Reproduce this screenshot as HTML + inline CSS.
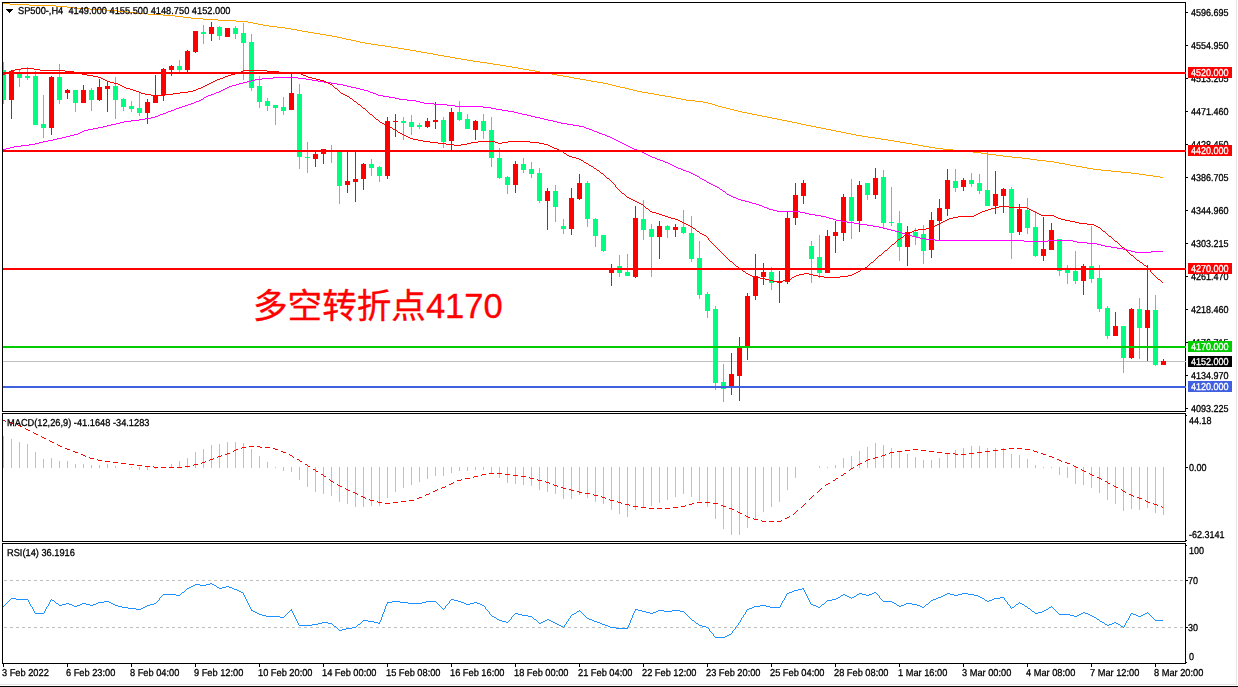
<!DOCTYPE html>
<html lang="zh"><head><meta charset="utf-8"><title>SP500-,H4</title>
<style>
html,body{margin:0;padding:0;background:#fff;}
body{width:1238px;height:687px;overflow:hidden;position:relative;font-family:"Liberation Sans",sans-serif;}
#chart{position:absolute;left:0;top:0;width:1238px;height:687px;}
#labels{position:absolute;left:0;top:0;width:1238px;height:687px;will-change:transform;}
svg{position:absolute;left:0;top:0;display:block;}
.t{position:absolute;white-space:nowrap;font-family:"Liberation Sans",sans-serif;font-size:10px;line-height:11px;height:11px;color:#000;transform:scaleX(0.9);transform-origin:0 0;text-rendering:geometricPrecision;-webkit-text-stroke:0.3px #000;}
.d{transform:scaleX(0.925);}
.box{position:absolute;left:1188px;width:44px;height:11px;color:#fff;font-size:10px;line-height:11px;font-family:"Liberation Sans",sans-serif;}
.box span{position:absolute;left:3px;top:1px;white-space:nowrap;transform:scaleX(0.9);transform-origin:0 0;text-rendering:geometricPrecision;-webkit-text-stroke:0.3px #fff;}
</style></head><body><div id="chart">
<svg width="1238" height="687" viewBox="0 0 1238 687" shape-rendering="crispEdges">
<rect x="0" y="0" width="1238" height="687" fill="#fff"/>
<rect x="1236" y="0" width="1" height="685" fill="#e4e4e4"/>
<rect x="0" y="684" width="1237" height="1" fill="#e4e4e4"/>
<rect x="0" y="686" width="1238" height="1" fill="#000"/>
<rect x="3" y="361" width="1182" height="1" fill="#c0c0c0"/>
<path fill="#00ff80" d="M3 62h1v42h-1zM3 70h3v30h-3zM19 70h1v17h-1zM17 74h5v4h-5zM27 67h1v13h-1zM25 76h5v2h-5zM35 71h1v54h-1zM33 76h5v49h-5zM43 95h1v43h-1zM41 124h5v4h-5zM59 64h1v40h-1zM57 77h5v23h-5zM75 90h1v22h-1zM73 90h5v13h-5zM91 88h1v23h-1zM89 90h5v10h-5zM115 77h1v42h-1zM113 86h5v14h-5zM123 98h1v13h-1zM121 99h5v8h-5zM131 101h1v11h-1zM129 106h5v3h-5zM139 93h1v23h-1zM137 108h5v5h-5zM179 60h1v12h-1zM177 66h5v4h-5zM203 25h1v19h-1zM201 32h5v2h-5zM219 26h1v14h-1zM217 27h5v9h-5zM235 26h1v13h-1zM233 28h5v6h-5zM243 23h1v57h-1zM241 33h5v10h-5zM251 34h1v57h-1zM249 42h5v46h-5zM259 76h1v32h-1zM257 86h5v16h-5zM267 98h1v13h-1zM265 101h5v5h-5zM275 105h1v20h-1zM273 105h5v3h-5zM283 97h1v18h-1zM281 107h5v4h-5zM299 84h1v85h-1zM297 94h5v63h-5zM307 142h1v31h-1zM305 157h5v1h-5zM331 145h1v18h-1zM329 150h5v2h-5zM339 151h1v53h-1zM337 151h5v35h-5zM371 159h1v17h-1zM369 164h5v4h-5zM379 166h1v16h-1zM377 167h5v9h-5zM403 117h1v23h-1zM401 121h5v2h-5zM411 115h1v20h-1zM409 122h5v5h-5zM419 123h1v6h-1zM417 125h5v2h-5zM443 117h1v31h-1zM441 120h5v22h-5zM459 101h1v20h-1zM457 112h5v8h-5zM467 114h1v15h-1zM465 119h5v10h-5zM483 114h1v25h-1zM481 121h5v10h-5zM491 117h1v50h-1zM489 130h5v28h-5zM499 148h1v31h-1zM497 158h5v20h-5zM507 176h1v18h-1zM505 177h5v8h-5zM523 158h1v15h-1zM521 164h5v6h-5zM531 162h1v16h-1zM529 169h5v5h-5zM539 168h1v35h-1zM537 173h5v28h-5zM555 185h1v37h-1zM553 191h5v16h-5zM563 219h1v15h-1zM561 226h5v3h-5zM587 181h1v46h-1zM585 183h5v36h-5zM595 218h1v29h-1zM593 219h5v17h-5zM603 235h1v17h-1zM601 235h5v16h-5zM619 255h1v22h-1zM617 266h5v7h-5zM627 254h1v22h-1zM625 272h5v4h-5zM643 200h1v40h-1zM641 219h5v11h-5zM651 224h1v53h-1zM649 229h5v8h-5zM667 225h1v13h-1zM665 226h5v4h-5zM683 210h1v24h-1zM681 227h5v6h-5zM691 216h1v46h-1zM689 233h5v26h-5zM699 241h1v58h-1zM697 258h5v37h-5zM707 292h1v26h-1zM705 294h5v17h-5zM715 306h1v84h-1zM713 309h5v74h-5zM723 364h1v38h-1zM721 382h5v7h-5zM771 267h1v23h-1zM769 272h5v11h-5zM811 241h1v42h-1zM809 246h5v13h-5zM819 235h1v43h-1zM817 257h5v16h-5zM851 179h1v60h-1zM849 197h5v24h-5zM867 183h1v17h-1zM865 183h5v12h-5zM883 170h1v59h-1zM881 177h5v46h-5zM891 187h1v39h-1zM889 222h5v1h-5zM899 211h1v50h-1zM897 223h5v24h-5zM915 228h1v17h-1zM913 232h5v5h-5zM923 225h1v39h-1zM921 234h5v17h-5zM955 169h1v23h-1zM953 181h5v7h-5zM971 173h1v14h-1zM969 180h5v4h-5zM979 174h1v20h-1zM977 183h5v8h-5zM987 152h1v54h-1zM985 190h5v16h-5zM1011 187h1v72h-1zM1009 189h5v44h-5zM1027 198h1v36h-1zM1025 210h5v18h-5zM1035 211h1v46h-1zM1033 227h5v29h-5zM1059 239h1v37h-1zM1057 239h5v32h-5zM1067 265h1v19h-1zM1065 270h5v3h-5zM1075 251h1v33h-1zM1073 271h5v10h-5zM1091 226h1v57h-1zM1089 266h5v13h-5zM1099 265h1v47h-1zM1097 278h5v31h-5zM1107 306h1v33h-1zM1105 308h5v28h-5zM1123 326h1v47h-1zM1121 326h5v32h-5zM1139 298h1v61h-1zM1137 309h5v19h-5zM1155 295h1v71h-1zM1153 310h5v55h-5z"/>
<path fill="#ff0000" d="M11 70h1v49h-1zM9 71h5v29h-5zM51 76h1v59h-1zM49 77h5v51h-5zM67 89h1v10h-1zM65 90h5v3h-5zM83 85h1v18h-1zM81 90h5v13h-5zM99 79h1v22h-1zM97 87h5v13h-5zM107 82h1v30h-1zM105 86h5v3h-5zM147 99h1v25h-1zM145 102h5v11h-5zM155 75h1v28h-1zM153 95h5v8h-5zM163 68h1v33h-1zM161 69h5v26h-5zM171 65h1v11h-1zM169 66h5v4h-5zM187 50h1v22h-1zM185 51h5v19h-5zM195 31h1v22h-1zM193 31h5v21h-5zM211 22h1v19h-1zM209 27h5v7h-5zM227 28h1v9h-1zM225 28h5v9h-5zM291 74h1v36h-1zM289 93h5v17h-5zM315 152h1v15h-1zM313 154h5v5h-5zM323 149h1v15h-1zM321 149h5v5h-5zM347 151h1v42h-1zM345 181h5v4h-5zM355 151h1v51h-1zM353 179h5v3h-5zM363 163h1v27h-1zM361 164h5v15h-5zM387 117h1v62h-1zM385 121h5v55h-5zM395 114h1v23h-1zM393 121h5v1h-5zM427 118h1v10h-1zM425 121h5v6h-5zM435 102h1v27h-1zM433 120h5v2h-5zM451 108h1v42h-1zM449 112h5v29h-5zM475 120h1v20h-1zM473 121h5v9h-5zM515 161h1v32h-1zM513 164h5v21h-5zM547 188h1v42h-1zM545 191h5v10h-5zM571 188h1v47h-1zM569 198h5v31h-5zM579 174h1v26h-1zM577 183h5v16h-5zM611 264h1v22h-1zM609 268h5v5h-5zM635 206h1v72h-1zM633 218h5v59h-5zM659 221h1v38h-1zM657 226h5v11h-5zM675 224h1v13h-1zM673 227h5v3h-5zM731 353h1v42h-1zM729 374h5v12h-5zM739 337h1v64h-1zM737 348h5v28h-5zM747 293h1v67h-1zM745 296h5v50h-5zM755 254h1v46h-1zM753 276h5v20h-5zM763 263h1v22h-1zM761 272h5v5h-5zM779 271h1v32h-1zM777 281h5v2h-5zM787 212h1v72h-1zM785 218h5v64h-5zM795 183h1v42h-1zM793 195h5v23h-5zM803 180h1v24h-1zM801 183h5v13h-5zM827 230h1v43h-1zM825 236h5v37h-5zM835 221h1v32h-1zM833 232h5v4h-5zM843 194h1v47h-1zM841 197h5v36h-5zM859 181h1v51h-1zM857 185h5v36h-5zM875 168h1v31h-1zM873 178h5v17h-5zM907 226h1v40h-1zM905 232h5v15h-5zM931 212h1v46h-1zM929 220h5v30h-5zM939 199h1v41h-1zM937 208h5v13h-5zM947 169h1v47h-1zM945 180h5v29h-5zM963 178h1v13h-1zM961 180h5v7h-5zM995 171h1v43h-1zM993 194h5v12h-5zM1003 188h1v25h-1zM1001 189h5v7h-5zM1019 204h1v31h-1zM1017 209h5v23h-5zM1043 217h1v44h-1zM1041 249h5v7h-5zM1051 223h1v27h-1zM1049 230h5v20h-5zM1083 264h1v31h-1zM1081 266h5v15h-5zM1115 312h1v24h-1zM1113 326h5v10h-5zM1131 308h1v51h-1zM1129 309h5v49h-5zM1147 265h1v96h-1zM1145 310h5v18h-5zM1163 359h1v6h-1zM1161 361h5v4h-5z"/>
<path fill="#ffa500" d="M427 53h6v1h-6zM269 26h8v1h-8zM535 71h5v1h-5zM191 18h12v1h-12zM620 87h5v1h-5zM136 13h12v1h-12zM10 4h19v1h-19zM1101 170h10v1h-10zM671 97h5v1h-5zM1121 172h10v1h-10zM236 21h12v1h-12zM506 66h6v1h-6zM314 33h6v1h-6zM253 23h5v1h-5zM518 68h5v1h-5zM356 41h4v1h-4zM385 46h6v1h-6zM1012 157h10v1h-10zM3 3h7v1h-7zM404 49h6v1h-6zM757 115h5v1h-5zM1022 158h8v1h-8zM371 44h7v1h-7zM163 15h12v1h-12zM342 38h4v1h-4zM552 74h5v1h-5zM1046 161h8v1h-8zM841 132h5v1h-5zM608 84h4v1h-4zM105 10h12v1h-12zM811 126h5v1h-5zM782 120h5v1h-5zM450 57h5v1h-5zM416 51h5v1h-5zM523 69h6v1h-6zM175 16h8v1h-8zM722 107h4v1h-4zM659 95h6v1h-6zM963 151h10v1h-10zM1139 174h7v1h-7zM493 64h7v1h-7zM597 82h6v1h-6zM742 112h5v1h-5zM29 5h27v1h-27zM67 7h10v1h-10zM218 20h18v1h-18zM996 155h7v1h-7zM346 39h5v1h-5zM391 47h7v1h-7zM90 9h15v1h-15zM747 113h5v1h-5zM183 17h8v1h-8zM203 19h15v1h-15zM360 42h5v1h-5zM332 36h5v1h-5zM665 96h6v1h-6zM625 88h4v1h-4zM127 12h9v1h-9zM801 124h5v1h-5zM1111 171h10v1h-10zM302 31h6v1h-6zM438 55h6v1h-6zM512 67h6v1h-6zM56 6h11v1h-11zM648 93h6v1h-6zM929 147h6v1h-6zM943 149h10v1h-10zM480 62h7v1h-7zM557 75h6v1h-6zM258 24h5v1h-5zM612 85h4v1h-4zM695 101h8v1h-8zM148 14h15v1h-15zM856 135h6v1h-6zM816 127h5v1h-5zM351 40h5v1h-5zM77 8h13v1h-13zM320 34h6v1h-6zM421 52h6v1h-6zM734 110h4v1h-4zM467 60h6v1h-6zM752 114h5v1h-5zM831 130h5v1h-5zM712 104h3v1h-3zM1093 169h8v1h-8zM248 22h5v1h-5zM629 89h4v1h-4zM681 99h5v1h-5zM291 29h6v1h-6zM263 25h6v1h-6zM1131 173h8v1h-8zM308 32h6v1h-6zM410 50h6v1h-6zM337 37h5v1h-5zM277 27h8v1h-8zM378 45h7v1h-7zM603 83h5v1h-5zM715 105h3v1h-3zM806 125h5v1h-5zM1037 160h9v1h-9zM738 111h4v1h-4zM455 58h6v1h-6zM686 100h9v1h-9zM616 86h4v1h-4zM821 128h5v1h-5zM953 150h10v1h-10zM792 122h5v1h-5zM1082 167h5v1h-5zM875 138h6v1h-6zM973 152h8v1h-8zM500 65h6v1h-6zM117 11h10v1h-10zM988 154h8v1h-8zM1003 156h9v1h-9zM326 35h6v1h-6zM1087 168h6v1h-6zM398 48h6v1h-6zM642 92h6v1h-6zM923 146h6v1h-6zM1070 165h6v1h-6zM862 136h6v1h-6zM703 102h5v1h-5zM591 81h6v1h-6zM1030 159h7v1h-7zM1153 176h7v1h-7zM473 61h7v1h-7zM836 131h5v1h-5zM285 28h6v1h-6zM797 123h4v1h-4zM912 144h6v1h-6zM676 98h5v1h-5zM1059 163h6v1h-6zM851 134h5v1h-5zM708 103h4v1h-4zM881 139h7v1h-7zM730 109h4v1h-4zM461 59h6v1h-6zM900 142h6v1h-6zM580 79h6v1h-6zM787 121h5v1h-5zM868 137h7v1h-7zM1146 175h7v1h-7zM981 153h7v1h-7zM918 145h5v1h-5zM772 118h5v1h-5zM888 140h6v1h-6zM569 77h5v1h-5zM1065 164h5v1h-5zM540 72h6v1h-6zM654 94h5v1h-5zM586 80h5v1h-5zM935 148h8v1h-8zM906 143h6v1h-6zM1054 162h5v1h-5zM846 133h5v1h-5zM777 119h5v1h-5zM574 78h6v1h-6zM297 30h5v1h-5zM365 43h6v1h-6zM894 141h6v1h-6zM726 108h4v1h-4zM563 76h6v1h-6zM1076 166h6v1h-6zM444 56h6v1h-6zM633 90h4v1h-4zM718 106h4v1h-4zM637 91h5v1h-5zM1160 177h3v1h-3zM826 129h5v1h-5zM433 54h5v1h-5zM529 70h6v1h-6zM487 63h6v1h-6zM767 117h5v1h-5zM546 73h6v1h-6zM762 116h5v1h-5z"/>
<path fill="#ff00ff" d="M243 82h4v1h-4zM324 82h7v1h-7zM762 206h2v1h-2zM262 78h11v1h-11zM298 78h8v1h-8zM107 125h4v1h-4zM573 125h6v1h-6zM702 179h2v1h-2zM935 240h89v1h-89zM1048 240h25v1h-25zM1105 246h6v1h-6zM98 127h5v1h-5zM584 127h2v1h-2zM168 111h3v1h-3zM508 111h6v1h-6zM225 88h2v1h-2zM356 88h4v1h-4zM805 213h4v1h-4zM131 120h8v1h-8zM548 120h5v1h-5zM738 199h3v1h-3zM693 174h2v1h-2zM182 106h3v1h-3zM455 106h28v1h-28zM273 77h25v1h-25zM124 121h7v1h-7zM553 121h4v1h-4zM731 196h2v1h-2zM821 216h5v1h-5zM686 171h3v1h-3zM912 236h4v1h-4zM873 226h6v1h-6zM251 80h4v1h-4zM312 80h6v1h-6zM199 100h2v1h-2zM407 100h9v1h-9zM211 94h3v1h-3zM376 94h2v1h-2zM194 102h2v1h-2zM420 102h4v1h-4zM84 130h4v1h-4zM592 130h2v1h-2zM160 114h3v1h-3zM522 114h5v1h-5zM777 211h23v1h-23zM759 205h3v1h-3zM1131 251h4v1h-4zM1151 251h12v1h-12zM204 97h2v1h-2zM389 97h6v1h-6zM111 124h5v1h-5zM567 124h6v1h-6zM14 146h7v1h-7zM628 146h2v1h-2zM188 104h3v1h-3zM434 104h13v1h-13zM1087 243h10v1h-10zM93 128h5v1h-5zM586 128h3v1h-3zM179 107h3v1h-3zM483 107h8v1h-8zM116 123h4v1h-4zM561 123h6v1h-6zM847 222h7v1h-7zM926 239h9v1h-9zM191 103h3v1h-3zM424 103h10v1h-10zM103 126h4v1h-4zM579 126h5v1h-5zM3 149h3v1h-3zM634 149h3v1h-3zM139 119h6v1h-6zM544 119h4v1h-4zM227 87h2v1h-2zM351 87h5v1h-5zM82 131h2v1h-2zM594 131h3v1h-3zM809 214h6v1h-6zM174 109h2v1h-2zM496 109h6v1h-6zM891 230h4v1h-4zM395 98h4v1h-4zM223 89h2v1h-2zM360 89h4v1h-4zM10 147h4v1h-4zM630 147h2v1h-2zM208 95h3v1h-3zM378 95h5v1h-5zM1097 244h4v1h-4zM21 145h8v1h-8zM626 145h2v1h-2zM78 133h2v1h-2zM599 133h3v1h-3zM741 200h4v1h-4zM1024 241h24v1h-24zM1073 241h4v1h-4zM43 141h5v1h-5zM618 141h2v1h-2zM733 197h3v1h-3zM70 135h4v1h-4zM605 135h2v1h-2zM155 116h3v1h-3zM531 116h4v1h-4zM1135 252h16v1h-16zM916 237h4v1h-4zM29 144h6v1h-6zM624 144h2v1h-2zM166 112h2v1h-2zM514 112h4v1h-4zM836 220h5v1h-5zM151 117h4v1h-4zM535 117h5v1h-5zM773 210h4v1h-4zM57 138h5v1h-5zM612 138h2v1h-2zM206 96h2v1h-2zM383 96h6v1h-6zM74 134h4v1h-4zM602 134h3v1h-3zM644 153h2v1h-2zM219 91h2v1h-2zM368 91h2v1h-2zM39 142h4v1h-4zM620 142h2v1h-2zM66 136h4v1h-4zM607 136h3v1h-3zM711 184h2v1h-2zM854 223h6v1h-6zM171 110h3v1h-3zM502 110h6v1h-6zM906 234h3v1h-3zM1077 242h10v1h-10zM35 143h4v1h-4zM622 143h2v1h-2zM247 81h4v1h-4zM318 81h6v1h-6zM815 215h6v1h-6zM53 139h4v1h-4zM614 139h2v1h-2zM745 201h4v1h-4zM196 101h3v1h-3zM416 101h4v1h-4zM185 105h3v1h-3zM447 105h8v1h-8zM655 158h2v1h-2zM646 154h2v1h-2zM800 212h5v1h-5zM883 228h4v1h-4zM229 86h3v1h-3zM347 86h4v1h-4zM236 84h3v1h-3zM337 84h6v1h-6zM672 165h2v1h-2zM176 108h3v1h-3zM491 108h5v1h-5zM665 162h3v1h-3zM691 173h2v1h-2zM887 229h4v1h-4zM700 178h2v1h-2zM909 235h3v1h-3zM683 170h3v1h-3zM201 99h2v1h-2zM399 99h8v1h-8zM120 122h4v1h-4zM557 122h4v1h-4zM214 93h2v1h-2zM373 93h3v1h-3zM736 198h2v1h-2zM676 167h2v1h-2zM221 90h2v1h-2zM364 90h4v1h-4zM729 195h2v1h-2zM841 221h6v1h-6zM255 79h7v1h-7zM306 79h6v1h-6zM1127 250h4v1h-4zM769 209h4v1h-4zM860 224h7v1h-7zM88 129h5v1h-5zM589 129h3v1h-3zM1117 248h6v1h-6zM723 191h2v1h-2zM833 219h3v1h-3zM879 227h4v1h-4zM145 118h6v1h-6zM540 118h4v1h-4zM902 233h4v1h-4zM895 231h4v1h-4zM752 203h4v1h-4zM867 225h6v1h-6zM652 157h3v1h-3zM239 83h4v1h-4zM331 83h6v1h-6zM62 137h4v1h-4zM610 137h2v1h-2zM678 168h3v1h-3zM637 150h2v1h-2zM663 161h2v1h-2zM704 180h2v1h-2zM756 204h3v1h-3zM48 140h5v1h-5zM616 140h2v1h-2zM681 169h2v1h-2zM767 208h2v1h-2zM1111 247h6v1h-6zM232 85h4v1h-4zM343 85h4v1h-4zM899 232h3v1h-3zM6 148h4v1h-4zM632 148h2v1h-2zM80 132h2v1h-2zM597 132h2v1h-2zM717 187h2v1h-2zM657 159h3v1h-3zM650 156h2v1h-2zM642 152h2v1h-2zM660 160h3v1h-3zM163 113h3v1h-3zM518 113h4v1h-4zM216 92h3v1h-3zM370 92h3v1h-3zM713 185h2v1h-2zM1123 249h4v1h-4zM158 115h2v1h-2zM527 115h4v1h-4zM764 207h3v1h-3zM689 172h2v1h-2zM727 194h2v1h-2zM826 217h3v1h-3zM829 218h4v1h-4zM920 238h6v1h-6zM1101 245h4v1h-4zM648 155h2v1h-2zM715 186h2v1h-2zM749 202h3v1h-3zM639 151h3v1h-3zM707 182h2v1h-2zM709 183h2v1h-2zM670 164h2v1h-2zM668 163h2v1h-2zM695 175h2v1h-2zM697 176h2v1h-2zM720 189h2v1h-2zM674 166h2v1h-2zM726 193h1v1h-1zM699 177h1v1h-1zM725 192h1v1h-1zM203 98h1v1h-1zM719 188h1v1h-1zM706 181h1v1h-1zM722 190h1v1h-1z"/>
<path fill="#ff0000" d="M358 104h2v1h-2zM665 216h3v1h-3zM958 216h16v1h-16zM1054 216h2v1h-2zM748 274h2v1h-2zM799 274h5v1h-5zM809 274h4v1h-4zM852 274h2v1h-2zM10 71h2v1h-2zM65 71h9v1h-9zM241 71h2v1h-2zM267 71h12v1h-12zM682 222h2v1h-2zM941 222h2v1h-2zM1075 222h4v1h-4zM12 70h3v1h-3zM40 70h25v1h-25zM243 70h24v1h-24zM446 144h8v1h-8zM461 144h6v1h-6zM544 144h4v1h-4zM8 72h2v1h-2zM74 72h4v1h-4zM238 72h3v1h-3zM279 72h14v1h-14zM413 139h5v1h-5zM750 275h2v1h-2zM796 275h3v1h-3zM813 275h5v1h-5zM848 275h4v1h-4zM87 75h6v1h-6zM228 75h3v1h-3zM303 75h3v1h-3zM995 207h4v1h-4zM1009 207h18v1h-18zM21 68h13v1h-13zM639 203h2v1h-2zM423 141h7v1h-7zM478 141h17v1h-17zM508 141h22v1h-22zM631 199h2v1h-2zM671 218h4v1h-4zM949 218h4v1h-4zM1058 218h3v1h-3zM126 88h4v1h-4zM198 88h3v1h-3zM335 88h2v1h-2zM985 210h3v1h-3zM1031 210h2v1h-2zM633 200h2v1h-2zM5 73h3v1h-3zM78 73h4v1h-4zM235 73h3v1h-3zM293 73h8v1h-8zM1122 247h2v1h-2zM931 227h2v1h-2zM1098 227h2v1h-2zM684 223h2v1h-2zM939 223h2v1h-2zM1079 223h8v1h-8zM569 156h3v1h-3zM438 143h8v1h-8zM467 143h4v1h-4zM498 143h4v1h-4zM539 143h5v1h-5zM145 94h6v1h-6zM165 94h8v1h-8zM343 94h2v1h-2zM697 231h2v1h-2zM912 231h2v1h-2zM1103 231h2v1h-2zM93 76h5v1h-5zM225 76h3v1h-3zM306 76h2v1h-2zM136 91h3v1h-3zM188 91h5v1h-5zM103 79h2v1h-2zM217 79h3v1h-3zM316 79h4v1h-4zM594 168h2v1h-2zM688 225h2v1h-2zM935 225h2v1h-2zM1094 225h2v1h-2zM668 217h3v1h-3zM953 217h5v1h-5zM1056 217h2v1h-2zM390 127h2v1h-2zM382 123h2v1h-2zM918 229h8v1h-8zM133 90h3v1h-3zM193 90h3v1h-3zM384 124h2v1h-2zM114 83h4v1h-4zM209 83h2v1h-2zM328 83h2v1h-2zM675 219h3v1h-3zM947 219h2v1h-2zM1061 219h4v1h-4zM354 101h2v1h-2zM756 277h4v1h-4zM792 277h2v1h-2zM824 277h16v1h-16zM693 228h2v1h-2zM926 228h5v1h-5zM646 208h2v1h-2zM991 208h4v1h-4zM1027 208h2v1h-2zM736 266h2v1h-2zM139 92h2v1h-2zM180 92h8v1h-8zM865 267h2v1h-2zM769 280h4v1h-4zM783 280h6v1h-6zM98 77h3v1h-3zM223 77h2v1h-2zM308 77h4v1h-4zM105 80h2v1h-2zM215 80h2v1h-2zM320 80h4v1h-4zM752 276h4v1h-4zM794 276h2v1h-2zM818 276h6v1h-6zM840 276h8v1h-8zM999 206h10v1h-10zM3 74h2v1h-2zM82 74h5v1h-5zM231 74h4v1h-4zM301 74h2v1h-2zM572 157h4v1h-4zM564 153h2v1h-2zM118 84h2v1h-2zM207 84h2v1h-2zM330 84h2v1h-2zM652 212h4v1h-4zM980 212h2v1h-2zM1035 212h2v1h-2zM901 237h2v1h-2zM557 149h2v1h-2zM454 145h7v1h-7zM548 145h2v1h-2zM680 221h2v1h-2zM943 221h2v1h-2zM1070 221h5v1h-5zM746 273h2v1h-2zM804 273h5v1h-5zM854 273h2v1h-2zM581 160h2v1h-2zM130 89h3v1h-3zM196 89h2v1h-2zM730 261h2v1h-2zM576 158h3v1h-3zM656 213h3v1h-3zM978 213h2v1h-2zM1037 213h2v1h-2zM141 93h4v1h-4zM173 93h7v1h-7zM341 93h2v1h-2zM743 271h2v1h-2zM858 271h2v1h-2zM773 281h4v1h-4zM781 281h2v1h-2zM151 95h14v1h-14zM345 95h2v1h-2zM659 214h3v1h-3zM976 214h2v1h-2zM1039 214h2v1h-2zM702 234h2v1h-2zM906 234h2v1h-2zM15 69h6v1h-6zM34 69h6v1h-6zM650 211h2v1h-2zM982 211h3v1h-3zM1033 211h2v1h-2zM120 85h2v1h-2zM205 85h2v1h-2zM662 215h3v1h-3zM974 215h2v1h-2zM1041 215h13v1h-13zM559 150h2v1h-2zM678 220h2v1h-2zM945 220h2v1h-2zM1065 220h5v1h-5zM1115 241h2v1h-2zM777 282h4v1h-4zM863 268h2v1h-2zM408 137h2v1h-2zM400 133h2v1h-2zM110 82h4v1h-4zM211 82h2v1h-2zM326 82h2v1h-2zM910 232h2v1h-2zM686 224h2v1h-2zM937 224h2v1h-2zM1087 224h7v1h-7zM760 278h5v1h-5zM430 142h8v1h-8zM471 142h7v1h-7zM495 142h3v1h-3zM502 142h6v1h-6zM530 142h9v1h-9zM1109 236h2v1h-2zM637 202h2v1h-2zM885 250h2v1h-2zM101 78h2v1h-2zM220 78h3v1h-3zM312 78h4v1h-4zM410 138h3v1h-3zM1137 260h2v1h-2zM988 209h3v1h-3zM1029 209h2v1h-2zM871 262h2v1h-2zM1140 262h2v1h-2zM898 239h2v1h-2zM122 86h2v1h-2zM203 86h2v1h-2zM690 226h2v1h-2zM933 226h2v1h-2zM1096 226h2v1h-2zM395 130h2v1h-2zM388 126h2v1h-2zM380 122h2v1h-2zM856 272h2v1h-2zM879 255h2v1h-2zM1131 255h2v1h-2zM765 279h4v1h-4zM789 279h2v1h-2zM1158 279h2v1h-2zM554 148h3v1h-3zM376 119h2v1h-2zM914 230h4v1h-4zM124 87h2v1h-2zM201 87h2v1h-2zM700 233h2v1h-2zM908 233h2v1h-2zM740 269h2v1h-2zM861 269h2v1h-2zM406 136h2v1h-2zM398 132h2v1h-2zM892 244h2v1h-2zM597 170h2v1h-2zM393 129h2v1h-2zM386 125h2v1h-2zM567 155h2v1h-2zM552 147h2v1h-2zM586 163h2v1h-2zM1144 265h2v1h-2zM347 96h2v1h-2zM629 198h2v1h-2zM635 201h2v1h-2zM627 197h2v1h-2zM107 81h3v1h-3zM213 81h2v1h-2zM324 81h2v1h-2zM704 235h2v1h-2zM904 235h2v1h-2zM591 166h2v1h-2zM561 151h2v1h-2zM363 108h2v1h-2zM579 159h2v1h-2zM404 135h2v1h-2zM601 173h2v1h-2zM641 204h2v1h-2zM370 114h2v1h-2zM418 140h5v1h-5zM607 178h2v1h-2zM584 162h2v1h-2zM350 98h2v1h-2zM550 146h2v1h-2zM402 134h2v1h-2zM589 165h2v1h-2zM622 193h2v1h-2zM888 248h1v1h-1zM332 85h1v1h-1zM723 254h1v1h-1zM369 113h1v1h-1zM618 189h1v1h-1zM619 190h1v1h-1zM365 109h1v1h-1zM1161 281h1v1h-1zM870 263h1v1h-1zM876 258h1v1h-1zM1150 270h1v2h-1zM1108 235h1v1h-1zM366 110h1v1h-1zM729 260h1v1h-1zM333 86h1v1h-1zM874 260h1v1h-1zM352 99h1v1h-1zM609 179h1v1h-1zM1127 251h1v1h-1zM334 87h1v1h-1zM1105 232h1v1h-1zM593 167h1v1h-1zM726 257h1v1h-1zM1151 272h1v1h-1zM621 192h1v1h-1zM367 111h1v1h-1zM360 105h1v1h-1zM615 185h1v2h-1zM378 120h1v1h-1zM610 180h1v1h-1zM648 209h1v1h-1zM882 253h1v1h-1zM889 247h1v1h-1zM894 243h1v1h-1zM1106 233h1v1h-1zM1124 248h1v1h-1zM692 227h1v1h-1zM1117 242h1v1h-1zM727 258h1v1h-1zM612 182h1v1h-1zM745 272h1v1h-1zM738 267h1v1h-1zM903 236h1v1h-1zM649 210h1v1h-1zM887 249h1v1h-1zM1130 254h1v1h-1zM1107 234h1v1h-1zM699 232h1v1h-1zM877 257h1v1h-1zM739 268h1v1h-1zM1126 250h1v1h-1zM563 152h1v1h-1zM791 278h1v1h-1zM1154 275h1v1h-1zM875 259h1v1h-1zM881 254h1v1h-1zM711 242h1v1h-1zM613 183h1v1h-1zM868 265h1v1h-1zM614 184h1v1h-1zM869 264h1v1h-1zM860 270h1v1h-1zM1120 245h1v1h-1zM1155 276h1v1h-1zM1160 280h1v1h-1zM353 100h1v1h-1zM712 243h1v1h-1zM596 169h1v1h-1zM867 266h1v1h-1zM873 261h1v1h-1zM1128 252h1v1h-1zM1121 246h1v1h-1zM1139 261h1v1h-1zM1156 277h1v1h-1zM708 238h1v2h-1zM339 91h1v1h-1zM603 174h1v1h-1zM1152 273h1v1h-1zM1146 266h1v1h-1zM368 112h1v1h-1zM361 106h1v1h-1zM709 240h1v1h-1zM379 121h1v1h-1zM604 175h1v1h-1zM1147 267h1v1h-1zM719 250h1v1h-1zM1100 228h1v1h-1zM340 92h1v1h-1zM1118 243h1v1h-1zM1153 274h1v1h-1zM715 246h1v1h-1zM732 262h1v1h-1zM362 107h1v1h-1zM710 241h1v1h-1zM1119 244h1v1h-1zM716 247h1v1h-1zM733 263h1v1h-1zM1148 268h1v1h-1zM337 89h1v1h-1zM374 117h1v1h-1zM606 177h1v1h-1zM1101 229h1v1h-1zM891 245h1v1h-1zM624 194h1v1h-1zM397 131h1v1h-1zM644 206h1v1h-1zM1102 230h1v1h-1zM1143 264h1v1h-1zM392 128h1v1h-1zM707 237h1v1h-1zM1113 239h1v1h-1zM717 248h1v1h-1zM734 264h1v1h-1zM645 207h1v1h-1zM338 90h1v1h-1zM357 103h1v1h-1zM695 229h1v1h-1zM713 244h1v1h-1zM625 195h1v1h-1zM878 256h1v1h-1zM1157 278h1v1h-1zM1133 256h1v1h-1zM714 245h1v1h-1zM583 161h1v1h-1zM626 196h1v1h-1zM742 270h1v1h-1zM372 115h1v1h-1zM566 154h1v1h-1zM373 116h1v1h-1zM605 176h1v1h-1zM696 230h1v1h-1zM724 255h1v1h-1zM1134 257h1v1h-1zM1111 237h1v1h-1zM349 97h1v1h-1zM720 251h1v1h-1zM1162 282h1v1h-1zM643 205h1v1h-1zM725 256h1v1h-1zM1112 238h1v1h-1zM620 191h1v1h-1zM1135 258h1v1h-1zM356 102h1v1h-1zM721 252h1v1h-1zM599 171h1v1h-1zM616 187h1v1h-1zM896 241h1v1h-1zM897 240h1v1h-1zM1149 269h1v1h-1zM1142 263h1v1h-1zM375 118h1v1h-1zM706 236h1v1h-1zM600 172h1v1h-1zM617 188h1v1h-1zM611 181h1v1h-1zM895 242h1v1h-1zM900 238h1v1h-1zM884 251h1v1h-1zM1136 259h1v1h-1zM588 164h1v1h-1zM1129 253h1v1h-1zM890 246h1v1h-1zM722 253h1v1h-1zM1114 240h1v1h-1zM1125 249h1v1h-1zM718 249h1v1h-1zM735 265h1v1h-1zM883 252h1v1h-1zM728 259h1v1h-1z"/>
<text x="253" y="318.3" font-family="&quot;Liberation Sans&quot;, &quot;Noto Sans CJK SC&quot;, sans-serif" font-size="34.6" fill="#ff0000" stroke="#ff0000" stroke-width="0.35" shape-rendering="geometricPrecision">多空转折点4170</text>
<path fill="#c0c0c0" d="M3 436h1v32h-1zM11 439h1v29h-1zM19 442h1v26h-1zM27 444h1v24h-1zM35 452h1v16h-1zM43 459h1v9h-1zM51 458h1v10h-1zM59 461h1v7h-1zM67 461h1v7h-1zM75 464h1v4h-1zM83 464h1v4h-1zM91 465h1v3h-1zM99 465h1v3h-1zM107 464h1v4h-1zM115 466h1v2h-1zM131 467h1v1h-1zM139 467h1v3h-1zM147 467h1v3h-1zM155 467h1v2h-1zM171 464h1v4h-1zM179 461h1v7h-1zM187 458h1v10h-1zM195 452h1v16h-1zM203 449h1v19h-1zM211 445h1v23h-1zM219 444h1v24h-1zM227 442h1v26h-1zM235 442h1v26h-1zM243 443h1v25h-1zM251 449h1v19h-1zM259 456h1v12h-1zM267 462h1v6h-1zM275 467h1v1h-1zM283 467h1v4h-1zM291 467h1v5h-1zM299 467h1v13h-1zM307 467h1v20h-1zM315 467h1v25h-1zM323 467h1v27h-1zM331 467h1v29h-1zM339 467h1v35h-1zM347 467h1v37h-1zM355 467h1v40h-1zM363 467h1v40h-1zM371 467h1v39h-1zM379 467h1v39h-1zM387 467h1v31h-1zM395 467h1v25h-1zM403 467h1v21h-1zM411 467h1v18h-1zM419 467h1v15h-1zM427 467h1v12h-1zM435 467h1v9h-1zM443 467h1v9h-1zM451 467h1v6h-1zM459 467h1v4h-1zM467 467h1v4h-1zM475 467h1v3h-1zM483 467h1v3h-1zM491 467h1v7h-1zM499 467h1v11h-1zM507 467h1v16h-1zM515 467h1v17h-1zM523 467h1v18h-1zM531 467h1v19h-1zM539 467h1v23h-1zM547 467h1v25h-1zM555 467h1v27h-1zM563 467h1v32h-1zM571 467h1v32h-1zM579 467h1v28h-1zM587 467h1v31h-1zM595 467h1v35h-1zM603 467h1v37h-1zM611 467h1v43h-1zM619 467h1v47h-1zM627 467h1v50h-1zM635 467h1v43h-1zM643 467h1v41h-1zM651 467h1v39h-1zM659 467h1v36h-1zM667 467h1v33h-1zM675 467h1v30h-1zM683 467h1v27h-1zM691 467h1v30h-1zM699 467h1v34h-1zM707 467h1v40h-1zM715 467h1v52h-1zM723 467h1v62h-1zM731 467h1v68h-1zM739 467h1v68h-1zM747 467h1v61h-1zM755 467h1v52h-1zM763 467h1v45h-1zM771 467h1v40h-1zM779 467h1v35h-1zM787 467h1v23h-1zM795 467h1v11h-1zM819 466h1v2h-1zM827 467h1v1h-1zM835 465h1v3h-1zM843 458h1v10h-1zM851 456h1v12h-1zM859 451h1v17h-1zM867 447h1v21h-1zM875 443h1v25h-1zM883 445h1v23h-1zM891 448h1v20h-1zM899 452h1v16h-1zM907 454h1v14h-1zM915 457h1v11h-1zM923 460h1v8h-1zM931 460h1v8h-1zM939 458h1v10h-1zM947 453h1v15h-1zM955 450h1v18h-1zM963 448h1v20h-1zM971 446h1v22h-1zM979 446h1v22h-1zM987 448h1v20h-1zM995 448h1v20h-1zM1003 448h1v20h-1zM1011 454h1v14h-1zM1019 455h1v13h-1zM1027 459h1v9h-1zM1035 465h1v3h-1zM1043 467h1v1h-1zM1051 467h1v1h-1zM1059 467h1v8h-1zM1067 467h1v11h-1zM1075 467h1v17h-1zM1083 467h1v18h-1zM1091 467h1v21h-1zM1099 467h1v26h-1zM1107 467h1v33h-1zM1115 467h1v37h-1zM1123 467h1v44h-1zM1131 467h1v42h-1zM1139 467h1v43h-1zM1147 467h1v41h-1zM1155 467h1v46h-1zM1163 467h1v48h-1z"/>
<path fill="#ff0000" d="M154 467h4v1h-4zM161 467h5v1h-5zM169 467h5v1h-5zM177 467h5v1h-5zM1076 467h2v1h-2zM81 454h2v1h-2zM225 454h2v1h-2zM955 454h3v1h-3zM961 454h5v1h-5zM1043 454h3v1h-3zM113 462h5v1h-5zM202 462h3v1h-3zM1065 462h2v1h-2zM363 497h2v1h-2zM419 497h3v1h-3zM602 497h3v1h-3zM1137 497h2v1h-2zM218 456h3v1h-3zM1049 456h3v1h-3zM60 446h2v1h-2zM249 446h5v1h-5zM257 446h3v1h-3zM52 442h2v1h-2zM73 451h2v1h-2zM281 451h2v1h-2zM897 451h5v1h-5zM929 451h5v1h-5zM985 451h5v1h-5zM1034 451h3v1h-3zM44 438h2v1h-2zM649 508h5v1h-5zM657 508h5v1h-5zM665 508h5v1h-5zM729 508h3v1h-3zM121 463h5v1h-5zM860 463h2v1h-2zM1067 463h3v1h-3zM234 450h2v1h-2zM905 450h5v1h-5zM921 450h5v1h-5zM993 450h5v1h-5zM353 492h2v1h-2zM579 492h3v1h-3zM851 468h2v1h-2zM348 490h2v1h-2zM435 490h2v1h-2zM571 490h3v1h-3zM316 471h2v1h-2zM1084 471h2v1h-2zM83 455h2v1h-2zM290 455h2v1h-2zM882 455h3v1h-3zM633 506h5v1h-5zM681 506h4v1h-4zM723 506h3v1h-3zM346 489h2v1h-2zM569 489h2v1h-2zM417 498h2v1h-2zM1139 498h3v1h-3zM145 466h5v1h-5zM185 466h5v1h-5zM308 466h2v1h-2zM1074 466h2v1h-2zM465 478h5v1h-5zM530 478h4v1h-4zM836 478h2v1h-2zM1099 478h2v1h-2zM98 460h4v1h-4zM866 460h2v1h-2zM1059 460h2v1h-2zM65 448h2v1h-2zM273 448h2v1h-2zM1009 448h5v1h-5zM1017 448h5v1h-5zM338 485h2v1h-2zM554 485h3v1h-3zM442 487h3v1h-3zM561 487h2v1h-2zM1116 487h2v1h-2zM378 502h4v1h-4zM393 502h5v1h-5zM618 502h3v1h-3zM697 502h5v1h-5zM705 502h5v1h-5zM1148 502h2v1h-2zM331 481h2v1h-2zM1105 481h2v1h-2zM361 496h2v1h-2zM370 500h4v1h-4zM409 500h5v1h-5zM610 500h4v1h-4zM489 473h5v1h-5zM497 473h5v1h-5zM844 473h2v1h-2zM9 422h3v1h-3zM313 469h2v1h-2zM740 513h2v1h-2zM50 441h2v1h-2zM67 449h3v1h-3zM236 449h2v1h-2zM275 449h3v1h-3zM913 449h5v1h-5zM1001 449h5v1h-5zM1025 449h5v1h-5zM324 476h2v1h-2zM474 476h4v1h-4zM521 476h5v1h-5zM242 447h4v1h-4zM260 447h2v1h-2zM265 447h5v1h-5zM451 483h2v1h-2zM828 483h2v1h-2zM1108 483h2v1h-2zM227 453h3v1h-3zM945 453h5v1h-5zM953 453h2v1h-2zM969 453h5v1h-5zM1041 453h2v1h-2zM36 434h2v1h-2zM28 430h2v1h-2zM58 445h2v1h-2zM340 486h2v1h-2zM1114 486h2v1h-2zM426 494h3v1h-3zM1129 494h2v1h-2zM401 501h5v1h-5zM1146 501h2v1h-2zM641 507h5v1h-5zM673 507h5v1h-5zM457 480h4v1h-4zM538 480h4v1h-4zM833 480h2v1h-2zM625 504h4v1h-4zM689 504h3v1h-3zM1154 504h3v1h-3zM385 503h5v1h-5zM692 503h2v1h-2zM713 503h5v1h-5zM433 491h2v1h-2zM577 491h2v1h-2zM1123 491h2v1h-2zM355 493h2v1h-2zM585 493h5v1h-5zM105 461h5v1h-5zM300 461h2v1h-2zM321 474h2v1h-2zM482 474h4v1h-4zM505 474h5v1h-5zM1090 474h2v1h-2zM875 457h3v1h-3zM1052 457h2v1h-2zM129 464h5v1h-5zM194 464h4v1h-4zM305 464h2v1h-2zM858 464h2v1h-2zM563 488h3v1h-3zM513 475h5v1h-5zM841 475h2v1h-2zM1092 475h2v1h-2zM210 459h3v1h-3zM297 459h2v1h-2zM868 459h2v1h-2zM1057 459h2v1h-2zM721 505h2v1h-2zM732 509h2v1h-2zM546 482h3v1h-3zM90 458h4v1h-4zM873 458h2v1h-2zM75 452h3v1h-3zM283 452h3v1h-3zM890 452h4v1h-4zM937 452h5v1h-5zM977 452h5v1h-5zM748 517h2v1h-2zM787 517h2v1h-2zM1082 470h2v1h-2zM1097 477h2v1h-2zM20 426h2v1h-2zM594 495h4v1h-4zM1131 495h2v1h-2zM762 521h4v1h-4zM769 521h5v1h-5zM777 521h4v1h-4zM746 516h2v1h-2zM754 519h4v1h-4zM137 465h5v1h-5zM3 420h2v1h-2zM449 484h2v1h-2zM826 484h2v1h-2zM26 429h2v1h-2zM18 425h2v1h-2zM738 512h2v1h-2zM34 433h2v1h-2zM785 518h2v1h-2zM42 437h2v1h-2zM12 423h2v1h-2zM793 514h1v1h-1zM1113 485h1v1h-1zM881 456h1v1h-1zM617 501h1v1h-1zM818 491h1v1h-1zM819 490h1v1h-1zM377 501h1v1h-1zM221 455h1v1h-1zM323 475h1v1h-1zM429 493h1v1h-1zM461 479h1v1h-1zM817 492h1v1h-1zM745 515h1v1h-1zM889 453h1v1h-1zM737 511h1v1h-1zM1122 490h1v1h-1zM5 421h1v1h-1zM843 474h1v1h-1zM609 499h1v1h-1zM369 499h1v1h-1zM1101 479h1v1h-1zM810 498h1v1h-1zM289 454h1v1h-1zM153 466h1v1h-1zM292 456h1v1h-1zM809 499h1v1h-1zM621 503h1v1h-1zM201 463h1v1h-1zM1081 469h1v1h-1zM1073 465h1v1h-1zM453 482h1v1h-1zM794 513h1v1h-1zM1089 473h1v1h-1zM529 477h1v1h-1zM209 460h1v1h-1zM1121 489h1v1h-1zM1153 503h1v1h-1zM329 479h1v1h-1zM557 486h1v1h-1zM835 479h1v1h-1zM241 448h1v1h-1zM481 475h1v1h-1zM761 520h1v1h-1zM330 480h1v1h-1zM217 457h1v1h-1zM193 465h1v1h-1zM1157 505h1v1h-1zM1162 507h1v1h-1zM85 456h1v1h-1zM1061 461h1v1h-1zM865 461h1v1h-1zM553 484h1v1h-1zM821 488h1v1h-1zM753 518h1v1h-1zM850 469h1v1h-1zM885 454h1v1h-1zM857 465h1v1h-1zM233 451h1v1h-1zM685 505h1v1h-1zM299 460h1v1h-1zM804 504h1v1h-1zM805 503h1v1h-1zM789 516h1v1h-1zM445 486h1v1h-1zM1125 492h1v1h-1zM57 444h1v1h-1zM49 440h1v1h-1zM803 505h1v1h-1zM425 495h1v1h-1zM1161 506h1v1h-1zM473 477h1v1h-1zM1145 500h1v1h-1zM315 470h1v1h-1zM365 498h1v1h-1zM357 494h1v1h-1zM795 512h1v1h-1zM293 457h1v1h-1zM1033 450h1v1h-1zM437 489h1v1h-1zM820 489h1v1h-1zM825 485h1v1h-1zM849 470h1v1h-1zM549 483h1v1h-1zM853 467h1v1h-1zM813 495h1v1h-1zM17 424h1v1h-1zM345 488h1v1h-1zM97 459h1v1h-1zM41 436h1v1h-1zM601 496h1v1h-1zM33 432h1v1h-1zM811 497h1v1h-1zM812 496h1v1h-1zM25 428h1v1h-1zM1133 496h1v1h-1zM441 488h1v1h-1zM593 494h1v1h-1zM1037 452h1v1h-1zM545 481h1v1h-1zM797 510h1v1h-1zM629 505h1v1h-1zM89 457h1v1h-1zM781 520h1v1h-1zM333 482h1v1h-1zM796 511h1v1h-1zM801 507h1v1h-1zM605 498h1v1h-1zM802 506h1v1h-1zM205 461h1v1h-1zM537 479h1v1h-1zM1107 482h1v1h-1zM307 465h1v1h-1zM213 458h1v1h-1zM337 484h1v1h-1z"/>
<path fill="#c0c0c0" d="M4 580h3v1h-3zM10 580h3v1h-3zM16 580h3v1h-3zM22 580h3v1h-3zM28 580h3v1h-3zM34 580h3v1h-3zM40 580h3v1h-3zM46 580h3v1h-3zM52 580h3v1h-3zM58 580h3v1h-3zM64 580h3v1h-3zM70 580h3v1h-3zM76 580h3v1h-3zM82 580h3v1h-3zM88 580h3v1h-3zM94 580h3v1h-3zM100 580h3v1h-3zM106 580h3v1h-3zM112 580h3v1h-3zM118 580h3v1h-3zM124 580h3v1h-3zM130 580h3v1h-3zM136 580h3v1h-3zM142 580h3v1h-3zM148 580h3v1h-3zM154 580h3v1h-3zM160 580h3v1h-3zM166 580h3v1h-3zM172 580h3v1h-3zM178 580h3v1h-3zM184 580h3v1h-3zM190 580h3v1h-3zM196 580h3v1h-3zM202 580h3v1h-3zM208 580h3v1h-3zM214 580h3v1h-3zM220 580h3v1h-3zM226 580h3v1h-3zM232 580h3v1h-3zM238 580h3v1h-3zM244 580h3v1h-3zM250 580h3v1h-3zM256 580h3v1h-3zM262 580h3v1h-3zM268 580h3v1h-3zM274 580h3v1h-3zM280 580h3v1h-3zM286 580h3v1h-3zM292 580h3v1h-3zM298 580h3v1h-3zM304 580h3v1h-3zM310 580h3v1h-3zM316 580h3v1h-3zM322 580h3v1h-3zM328 580h3v1h-3zM334 580h3v1h-3zM340 580h3v1h-3zM346 580h3v1h-3zM352 580h3v1h-3zM358 580h3v1h-3zM364 580h3v1h-3zM370 580h3v1h-3zM376 580h3v1h-3zM382 580h3v1h-3zM388 580h3v1h-3zM394 580h3v1h-3zM400 580h3v1h-3zM406 580h3v1h-3zM412 580h3v1h-3zM418 580h3v1h-3zM424 580h3v1h-3zM430 580h3v1h-3zM436 580h3v1h-3zM442 580h3v1h-3zM448 580h3v1h-3zM454 580h3v1h-3zM460 580h3v1h-3zM466 580h3v1h-3zM472 580h3v1h-3zM478 580h3v1h-3zM484 580h3v1h-3zM490 580h3v1h-3zM496 580h3v1h-3zM502 580h3v1h-3zM508 580h3v1h-3zM514 580h3v1h-3zM520 580h3v1h-3zM526 580h3v1h-3zM532 580h3v1h-3zM538 580h3v1h-3zM544 580h3v1h-3zM550 580h3v1h-3zM556 580h3v1h-3zM562 580h3v1h-3zM568 580h3v1h-3zM574 580h3v1h-3zM580 580h3v1h-3zM586 580h3v1h-3zM592 580h3v1h-3zM598 580h3v1h-3zM604 580h3v1h-3zM610 580h3v1h-3zM616 580h3v1h-3zM622 580h3v1h-3zM628 580h3v1h-3zM634 580h3v1h-3zM640 580h3v1h-3zM646 580h3v1h-3zM652 580h3v1h-3zM658 580h3v1h-3zM664 580h3v1h-3zM670 580h3v1h-3zM676 580h3v1h-3zM682 580h3v1h-3zM688 580h3v1h-3zM694 580h3v1h-3zM700 580h3v1h-3zM706 580h3v1h-3zM712 580h3v1h-3zM718 580h3v1h-3zM724 580h3v1h-3zM730 580h3v1h-3zM736 580h3v1h-3zM742 580h3v1h-3zM748 580h3v1h-3zM754 580h3v1h-3zM760 580h3v1h-3zM766 580h3v1h-3zM772 580h3v1h-3zM778 580h3v1h-3zM784 580h3v1h-3zM790 580h3v1h-3zM796 580h3v1h-3zM802 580h3v1h-3zM808 580h3v1h-3zM814 580h3v1h-3zM820 580h3v1h-3zM826 580h3v1h-3zM832 580h3v1h-3zM838 580h3v1h-3zM844 580h3v1h-3zM850 580h3v1h-3zM856 580h3v1h-3zM862 580h3v1h-3zM868 580h3v1h-3zM874 580h3v1h-3zM880 580h3v1h-3zM886 580h3v1h-3zM892 580h3v1h-3zM898 580h3v1h-3zM904 580h3v1h-3zM910 580h3v1h-3zM916 580h3v1h-3zM922 580h3v1h-3zM928 580h3v1h-3zM934 580h3v1h-3zM940 580h3v1h-3zM946 580h3v1h-3zM952 580h3v1h-3zM958 580h3v1h-3zM964 580h3v1h-3zM970 580h3v1h-3zM976 580h3v1h-3zM982 580h3v1h-3zM988 580h3v1h-3zM994 580h3v1h-3zM1000 580h3v1h-3zM1006 580h3v1h-3zM1012 580h3v1h-3zM1018 580h3v1h-3zM1024 580h3v1h-3zM1030 580h3v1h-3zM1036 580h3v1h-3zM1042 580h3v1h-3zM1048 580h3v1h-3zM1054 580h3v1h-3zM1060 580h3v1h-3zM1066 580h3v1h-3zM1072 580h3v1h-3zM1078 580h3v1h-3zM1084 580h3v1h-3zM1090 580h3v1h-3zM1096 580h3v1h-3zM1102 580h3v1h-3zM1108 580h3v1h-3zM1114 580h3v1h-3zM1120 580h3v1h-3zM1126 580h3v1h-3zM1132 580h3v1h-3zM1138 580h3v1h-3zM1144 580h3v1h-3zM1150 580h3v1h-3zM1156 580h3v1h-3zM1162 580h3v1h-3zM1168 580h3v1h-3zM1174 580h3v1h-3zM1180 580h3v1h-3z"/>
<path fill="#c0c0c0" d="M4 627h3v1h-3zM10 627h3v1h-3zM16 627h3v1h-3zM22 627h3v1h-3zM28 627h3v1h-3zM34 627h3v1h-3zM40 627h3v1h-3zM46 627h3v1h-3zM52 627h3v1h-3zM58 627h3v1h-3zM64 627h3v1h-3zM70 627h3v1h-3zM76 627h3v1h-3zM82 627h3v1h-3zM88 627h3v1h-3zM94 627h3v1h-3zM100 627h3v1h-3zM106 627h3v1h-3zM112 627h3v1h-3zM118 627h3v1h-3zM124 627h3v1h-3zM130 627h3v1h-3zM136 627h3v1h-3zM142 627h3v1h-3zM148 627h3v1h-3zM154 627h3v1h-3zM160 627h3v1h-3zM166 627h3v1h-3zM172 627h3v1h-3zM178 627h3v1h-3zM184 627h3v1h-3zM190 627h3v1h-3zM196 627h3v1h-3zM202 627h3v1h-3zM208 627h3v1h-3zM214 627h3v1h-3zM220 627h3v1h-3zM226 627h3v1h-3zM232 627h3v1h-3zM238 627h3v1h-3zM244 627h3v1h-3zM250 627h3v1h-3zM256 627h3v1h-3zM262 627h3v1h-3zM268 627h3v1h-3zM274 627h3v1h-3zM280 627h3v1h-3zM286 627h3v1h-3zM292 627h3v1h-3zM298 627h3v1h-3zM304 627h3v1h-3zM310 627h3v1h-3zM316 627h3v1h-3zM322 627h3v1h-3zM328 627h3v1h-3zM334 627h3v1h-3zM340 627h3v1h-3zM346 627h3v1h-3zM352 627h3v1h-3zM358 627h3v1h-3zM364 627h3v1h-3zM370 627h3v1h-3zM376 627h3v1h-3zM382 627h3v1h-3zM388 627h3v1h-3zM394 627h3v1h-3zM400 627h3v1h-3zM406 627h3v1h-3zM412 627h3v1h-3zM418 627h3v1h-3zM424 627h3v1h-3zM430 627h3v1h-3zM436 627h3v1h-3zM442 627h3v1h-3zM448 627h3v1h-3zM454 627h3v1h-3zM460 627h3v1h-3zM466 627h3v1h-3zM472 627h3v1h-3zM478 627h3v1h-3zM484 627h3v1h-3zM490 627h3v1h-3zM496 627h3v1h-3zM502 627h3v1h-3zM508 627h3v1h-3zM514 627h3v1h-3zM520 627h3v1h-3zM526 627h3v1h-3zM532 627h3v1h-3zM538 627h3v1h-3zM544 627h3v1h-3zM550 627h3v1h-3zM556 627h3v1h-3zM562 627h3v1h-3zM568 627h3v1h-3zM574 627h3v1h-3zM580 627h3v1h-3zM586 627h3v1h-3zM592 627h3v1h-3zM598 627h3v1h-3zM604 627h3v1h-3zM610 627h3v1h-3zM616 627h3v1h-3zM622 627h3v1h-3zM628 627h3v1h-3zM634 627h3v1h-3zM640 627h3v1h-3zM646 627h3v1h-3zM652 627h3v1h-3zM658 627h3v1h-3zM664 627h3v1h-3zM670 627h3v1h-3zM676 627h3v1h-3zM682 627h3v1h-3zM688 627h3v1h-3zM694 627h3v1h-3zM700 627h3v1h-3zM706 627h3v1h-3zM712 627h3v1h-3zM718 627h3v1h-3zM724 627h3v1h-3zM730 627h3v1h-3zM736 627h3v1h-3zM742 627h3v1h-3zM748 627h3v1h-3zM754 627h3v1h-3zM760 627h3v1h-3zM766 627h3v1h-3zM772 627h3v1h-3zM778 627h3v1h-3zM784 627h3v1h-3zM790 627h3v1h-3zM796 627h3v1h-3zM802 627h3v1h-3zM808 627h3v1h-3zM814 627h3v1h-3zM820 627h3v1h-3zM826 627h3v1h-3zM832 627h3v1h-3zM838 627h3v1h-3zM844 627h3v1h-3zM850 627h3v1h-3zM856 627h3v1h-3zM862 627h3v1h-3zM868 627h3v1h-3zM874 627h3v1h-3zM880 627h3v1h-3zM886 627h3v1h-3zM892 627h3v1h-3zM898 627h3v1h-3zM904 627h3v1h-3zM910 627h3v1h-3zM916 627h3v1h-3zM922 627h3v1h-3zM928 627h3v1h-3zM934 627h3v1h-3zM940 627h3v1h-3zM946 627h3v1h-3zM952 627h3v1h-3zM958 627h3v1h-3zM964 627h3v1h-3zM970 627h3v1h-3zM976 627h3v1h-3zM982 627h3v1h-3zM988 627h3v1h-3zM994 627h3v1h-3zM1000 627h3v1h-3zM1006 627h3v1h-3zM1012 627h3v1h-3zM1018 627h3v1h-3zM1024 627h3v1h-3zM1030 627h3v1h-3zM1036 627h3v1h-3zM1042 627h3v1h-3zM1048 627h3v1h-3zM1054 627h3v1h-3zM1060 627h3v1h-3zM1066 627h3v1h-3zM1072 627h3v1h-3zM1078 627h3v1h-3zM1084 627h3v1h-3zM1090 627h3v1h-3zM1096 627h3v1h-3zM1102 627h3v1h-3zM1108 627h3v1h-3zM1114 627h3v1h-3zM1120 627h3v1h-3zM1126 627h3v1h-3zM1132 627h3v1h-3zM1138 627h3v1h-3zM1144 627h3v1h-3zM1150 627h3v1h-3zM1156 627h3v1h-3zM1162 627h3v1h-3zM1168 627h3v1h-3zM1174 627h3v1h-3zM1180 627h3v1h-3z"/>
<path fill="#1e90ff" d="M59 605h3v1h-3zM72 605h2v1h-2zM77 605h3v1h-3zM90 605h3v1h-3zM115 605h3v1h-3zM147 605h3v1h-3zM482 605h2v1h-2zM760 605h6v1h-6zM813 605h3v1h-3zM897 605h2v1h-2zM901 605h3v1h-3zM917 605h3v1h-3zM346 628h6v1h-6zM616 628h12v1h-12zM368 621h6v1h-6zM502 621h4v1h-4zM543 621h2v1h-2zM551 621h2v1h-2zM594 621h3v1h-3zM1100 621h2v1h-2zM262 615h4v1h-4zM522 615h6v1h-6zM1070 615h4v1h-4zM1077 615h2v1h-2zM1090 615h2v1h-2zM1136 615h2v1h-2zM1141 615h2v1h-2zM363 620h5v1h-5zM499 620h3v1h-3zM545 620h2v1h-2zM549 620h2v1h-2zM592 620h2v1h-2zM692 620h2v1h-2zM1155 620h8v1h-8zM182 592h2v1h-2zM241 592h2v1h-2zM789 592h3v1h-3zM874 592h2v1h-2zM847 596h2v1h-2zM854 596h2v1h-2zM941 596h2v1h-2zM978 596h2v1h-2zM62 604h4v1h-4zM69 604h3v1h-3zM80 604h2v1h-2zM86 604h4v1h-4zM93 604h3v1h-3zM113 604h2v1h-2zM150 604h4v1h-4zM466 604h4v1h-4zM480 604h2v1h-2zM811 604h2v1h-2zM822 604h2v1h-2zM904 604h2v1h-2zM912 604h5v1h-5zM926 604h2v1h-2zM1016 604h2v1h-2zM1022 604h2v1h-2zM193 585h2v1h-2zM200 585h6v1h-6zM214 585h2v1h-2zM52 600h2v1h-2zM454 600h4v1h-4zM827 600h5v1h-5zM931 600h2v1h-2zM985 600h2v1h-2zM989 600h3v1h-3zM163 594h13v1h-13zM843 594h2v1h-2zM857 594h2v1h-2zM862 594h4v1h-4zM869 594h3v1h-3zM945 594h2v1h-2zM950 594h4v1h-4zM958 594h4v1h-4zM968 594h6v1h-6zM280 617h4v1h-4zM494 617h2v1h-2zM1094 617h2v1h-2zM189 587h2v1h-2zM217 587h2v1h-2zM222 587h4v1h-4zM229 587h3v1h-3zM299 625h13v1h-13zM559 625h2v1h-2zM605 625h3v1h-3zM699 625h3v1h-3zM1107 625h2v1h-2zM16 599h12v1h-12zM451 599h3v1h-3zM832 599h4v1h-4zM933 599h3v1h-3zM992 599h2v1h-2zM587 618h2v1h-2zM253 611h2v1h-2zM577 611h2v1h-2zM642 611h4v1h-4zM656 611h2v1h-2zM664 611h8v1h-8zM680 611h4v1h-4zM1032 611h2v1h-2zM1042 611h2v1h-2zM11 598h5v1h-5zM836 598h2v1h-2zM936 598h2v1h-2zM982 598h2v1h-2zM994 598h6v1h-6zM122 607h6v1h-6zM143 607h2v1h-2zM752 607h2v1h-2zM770 607h10v1h-10zM818 607h2v1h-2zM922 607h2v1h-2zM1012 607h2v1h-2zM1049 607h2v1h-2zM237 590h2v1h-2zM794 590h4v1h-4zM787 593h2v1h-2zM859 593h3v1h-3zM872 593h2v1h-2zM947 593h3v1h-3zM962 593h6v1h-6zM56 603h2v1h-2zM66 603h3v1h-3zM82 603h4v1h-4zM96 603h2v1h-2zM111 603h2v1h-2zM154 603h2v1h-2zM408 603h14v1h-14zM464 603h2v1h-2zM470 603h4v1h-4zM477 603h3v1h-3zM894 603h2v1h-2zM906 603h6v1h-6zM1020 603h2v1h-2zM259 614h3v1h-3zM518 614h4v1h-4zM572 614h2v1h-2zM1059 614h11v1h-11zM1079 614h2v1h-2zM1088 614h2v1h-2zM1133 614h3v1h-3zM1143 614h2v1h-2zM128 608h8v1h-8zM141 608h2v1h-2zM749 608h3v1h-3zM1028 608h2v1h-2zM35 613h9v1h-9zM257 613h2v1h-2zM515 613h3v1h-3zM574 613h2v1h-2zM650 613h3v1h-3zM1035 613h3v1h-3zM1081 613h2v1h-2zM1085 613h3v1h-3zM1131 613h2v1h-2zM1145 613h2v1h-2zM187 588h2v1h-2zM219 588h3v1h-3zM232 588h2v1h-2zM802 588h2v1h-2zM318 623h4v1h-4zM328 623h4v1h-4zM378 623h2v1h-2zM539 623h2v1h-2zM555 623h2v1h-2zM600 623h2v1h-2zM696 623h2v1h-2zM1112 623h2v1h-2zM1116 623h2v1h-2zM497 619h2v1h-2zM534 619h2v1h-2zM547 619h2v1h-2zM589 619h3v1h-3zM1097 619h2v1h-2zM322 622h6v1h-6zM374 622h4v1h-4zM506 622h2v1h-2zM541 622h2v1h-2zM553 622h2v1h-2zM597 622h3v1h-3zM1102 622h2v1h-2zM1114 622h2v1h-2zM74 606h3v1h-3zM118 606h4v1h-4zM145 606h2v1h-2zM754 606h6v1h-6zM766 606h4v1h-4zM816 606h2v1h-2zM899 606h2v1h-2zM920 606h2v1h-2zM1025 606h2v1h-2zM176 595h4v1h-4zM841 595h2v1h-2zM845 595h2v1h-2zM866 595h3v1h-3zM943 595h2v1h-2zM954 595h4v1h-4zM974 595h4v1h-4zM255 612h2v1h-2zM646 612h4v1h-4zM653 612h3v1h-3zM1038 612h4v1h-4zM1083 612h2v1h-2zM312 624h6v1h-6zM358 624h2v1h-2zM557 624h2v1h-2zM602 624h3v1h-3zM1105 624h2v1h-2zM1109 624h3v1h-3zM1118 624h2v1h-2zM104 601h5v1h-5zM392 601h8v1h-8zM426 601h10v1h-10zM458 601h3v1h-3zM883 601h9v1h-9zM987 601h2v1h-2zM251 610h2v1h-2zM290 610h2v1h-2zM638 610h4v1h-4zM658 610h6v1h-6zM672 610h8v1h-8zM1044 610h2v1h-2zM136 609h5v1h-5zM635 609h3v1h-3zM747 609h2v1h-2zM1046 609h2v1h-2zM195 584h5v1h-5zM206 584h4v1h-4zM212 584h2v1h-2zM729 634h2v1h-2zM266 616h14v1h-14zM492 616h2v1h-2zM528 616h4v1h-4zM1074 616h3v1h-3zM1092 616h2v1h-2zM1138 616h3v1h-3zM239 591h2v1h-2zM792 591h2v1h-2zM191 586h2v1h-2zM226 586h3v1h-3zM838 597h2v1h-2zM849 597h2v1h-2zM852 597h2v1h-2zM938 597h3v1h-3zM980 597h2v1h-2zM1000 597h4v1h-4zM715 637h10v1h-10zM98 602h6v1h-6zM109 602h2v1h-2zM387 602h5v1h-5zM400 602h8v1h-8zM422 602h4v1h-4zM461 602h3v1h-3zM474 602h3v1h-3zM892 602h2v1h-2zM725 636h2v1h-2zM342 629h4v1h-4zM352 627h4v1h-4zM610 627h6v1h-6zM706 627h2v1h-2zM334 626h2v1h-2zM561 626h2v1h-2zM608 626h2v1h-2zM702 626h4v1h-4zM1121 626h2v1h-2zM339 630h3v1h-3zM210 583h2v1h-2zM234 589h3v1h-3zM798 589h4v1h-4zM727 635h2v1h-2zM439 605h1v1h-1zM491 615h1v1h-1zM1152 617h1v1h-1zM51 599h1v1h-1zM734 629h1v1h-1zM338 629h1v1h-1zM161 596h1v1h-1zM632 615h1v3h-1zM381 617h1v3h-1zM1031 610h1v1h-1zM5 604h1v1h-1zM689 617h1v1h-1zM741 618h1v2h-1zM784 598h1v2h-1zM450 600h1v1h-1zM879 596h1v2h-1zM1130 614h1v2h-1zM880 598h1v1h-1zM32 607h1v2h-1zM445 606h1v2h-1zM737 625h1v1h-1zM780 605h1v2h-1zM28 600h1v2h-1zM925 605h1v1h-1zM248 603h1v2h-1zM510 619h1v1h-1zM1126 621h1v2h-1zM513 615h1v1h-1zM688 616h1v1h-1zM1027 607h1v1h-1zM1124 625h1v2h-1zM821 605h1v1h-1zM380 620h1v2h-1zM579 610h1v1h-1zM384 609h1v3h-1zM571 615h1v1h-1zM1056 611h1v1h-1zM856 595h1v1h-1zM878 595h1v1h-1zM30 604h1v2h-1zM806 594h1v2h-1zM840 596h1v1h-1zM1057 612h1v1h-1zM31 606h1v1h-1zM586 617h1v1h-1zM634 611h1v2h-1zM1011 608h1v1h-1zM1148 613h1v1h-1zM783 600h1v1h-1zM449 601h1v2h-1zM627 627h1v1h-1zM825 602h1v1h-1zM565 624h1v1h-1zM713 634h1v2h-1zM34 611h1v2h-1zM714 636h1v1h-1zM536 620h1v1h-1zM297 621h1v2h-1zM360 623h1v1h-1zM584 615h1v1h-1zM1147 612h1v1h-1zM250 607h1v2h-1zM695 622h1v1h-1zM50 600h1v2h-1zM585 616h1v1h-1zM251 609h1v1h-1zM740 620h1v2h-1zM440 606h1v1h-1zM1015 605h1v1h-1zM984 599h1v1h-1zM441 607h1v1h-1zM684 612h1v1h-1zM288 612h1v1h-1zM1019 602h1v1h-1zM1154 619h1v1h-1zM46 607h1v2h-1zM285 615h1v1h-1zM444 608h1v1h-1zM33 609h1v2h-1zM691 619h1v1h-1zM1120 625h1v1h-1zM296 619h1v2h-1zM733 630h1v1h-1zM736 626h1v1h-1zM745 612h1v2h-1zM882 600h1v1h-1zM1010 606h1v2h-1zM247 601h1v2h-1zM486 609h1v1h-1zM7 602h1v1h-1zM743 615h1v2h-1zM786 594h1v2h-1zM690 618h1v1h-1zM243 593h1v2h-1zM630 620h1v3h-1zM1051 606h1v1h-1zM379 622h1v1h-1zM447 604h1v1h-1zM1052 607h1v1h-1zM298 623h1v2h-1zM633 613h1v2h-1zM49 602h1v2h-1zM782 601h1v2h-1zM1058 613h1v1h-1zM512 616h1v1h-1zM881 599h1v1h-1zM295 617h1v2h-1zM387 603h1v1h-1zM485 607h1v2h-1zM45 609h1v2h-1zM246 599h1v2h-1zM820 606h1v1h-1zM216 586h1v1h-1zM568 619h1v2h-1zM580 611h1v1h-1zM739 622h1v1h-1zM436 602h1v1h-1zM29 602h1v2h-1zM929 602h1v1h-1zM249 605h1v2h-1zM564 625h1v2h-1zM1150 615h1v1h-1zM336 627h1v1h-1zM746 610h1v2h-1zM362 621h1v1h-1zM686 614h1v1h-1zM511 617h1v2h-1zM386 604h1v2h-1zM1024 605h1v1h-1zM294 615h1v2h-1zM484 606h1v1h-1zM808 598h1v2h-1zM537 621h1v1h-1zM245 597h1v2h-1zM287 613h1v1h-1zM1149 614h1v1h-1zM385 606h1v3h-1zM48 604h1v2h-1zM1129 616h1v2h-1zM442 608h1v1h-1zM735 627h1v2h-1zM738 623h1v2h-1zM1125 623h1v2h-1zM162 595h1v1h-1zM9 600h1v1h-1zM1054 609h1v1h-1zM708 628h1v1h-1zM1004 598h1v2h-1zM6 603h1v1h-1zM332 624h1v1h-1zM180 594h1v1h-1zM293 613h1v2h-1zM742 617h1v1h-1zM785 596h1v2h-1zM807 596h1v2h-1zM157 601h1v1h-1zM1005 600h1v1h-1zM160 597h1v1h-1zM244 595h1v2h-1zM184 591h1v1h-1zM567 621h1v1h-1zM570 616h1v2h-1zM487 610h1v1h-1zM685 613h1v1h-1zM488 611h1v1h-1zM446 605h1v1h-1zM532 617h1v1h-1zM533 618h1v1h-1zM514 614h1v1h-1zM1099 620h1v1h-1zM810 602h1v2h-1zM1053 608h1v1h-1zM631 618h1v2h-1zM924 606h1v1h-1zM509 620h1v1h-1zM582 613h1v1h-1zM58 604h1v1h-1zM1034 612h1v1h-1zM928 603h1v1h-1zM357 625h1v1h-1zM4 605h1v1h-1zM289 611h1v1h-1zM809 600h1v2h-1zM54 601h1v1h-1zM566 622h1v2h-1zM824 603h1v1h-1zM361 622h1v1h-1zM490 614h1v1h-1zM1151 616h1v1h-1zM732 631h1v2h-1zM851 598h1v1h-1zM1030 609h1v1h-1zM581 612h1v1h-1zM635 610h1v1h-1zM1128 618h1v2h-1zM710 631h1v1h-1zM1014 606h1v1h-1zM448 603h1v1h-1zM437 603h1v1h-1zM292 611h1v2h-1zM156 602h1v1h-1zM629 623h1v2h-1zM1018 603h1v1h-1zM1007 602h1v2h-1zM337 628h1v1h-1zM383 612h1v2h-1zM687 615h1v1h-1zM8 601h1v1h-1zM186 589h1v1h-1zM709 629h1v2h-1zM44 611h1v2h-1zM159 598h1v2h-1zM1048 608h1v1h-1zM744 614h1v1h-1zM538 622h1v1h-1zM569 618h1v1h-1zM896 604h1v1h-1zM333 625h1v1h-1zM805 592h1v2h-1zM489 612h1v2h-1zM1006 601h1v1h-1zM284 616h1v1h-1zM443 609h1v1h-1zM781 603h1v2h-1zM698 624h1v1h-1zM382 614h1v3h-1zM930 601h1v1h-1zM508 621h1v1h-1zM1055 610h1v1h-1zM576 612h1v1h-1zM356 626h1v1h-1zM3 606h1v1h-1zM694 621h1v1h-1zM1104 623h1v1h-1zM291 609h1v1h-1zM628 625h1v2h-1zM55 602h1v1h-1zM876 593h1v1h-1zM1127 620h1v1h-1zM563 627h1v1h-1zM826 601h1v1h-1zM877 594h1v1h-1zM583 614h1v1h-1zM804 590h1v2h-1zM712 633h1v1h-1zM10 599h1v1h-1zM1008 604h1v1h-1zM1009 605h1v1h-1zM1123 627h1v1h-1zM181 593h1v1h-1zM1096 618h1v1h-1zM731 633h1v1h-1zM185 590h1v1h-1zM158 600h1v1h-1zM1153 618h1v1h-1zM711 632h1v1h-1zM286 614h1v1h-1zM47 606h1v1h-1zM496 618h1v1h-1zM803 589h1v1h-1zM438 604h1v1h-1z"/>
<path fill="#000" d="M2 2h1184v1h-1184zM2 411h1184v1h-1184zM2 2h1v410h-1zM2 413h1184v1h-1184zM2 541h1184v1h-1184zM2 413h1v129h-1zM2 543h1184v1h-1184zM2 663h1184v1h-1184zM2 543h1v121h-1zM1185 2h1v410h-1zM1185 413h1v129h-1zM1185 543h1v121h-1zM1186 12h2v1h-2zM1186 45h2v1h-2zM1186 78h2v1h-2zM1186 111h2v1h-2zM1186 144h2v1h-2zM1186 177h2v1h-2zM1186 210h2v1h-2zM1186 243h2v1h-2zM1186 276h2v1h-2zM1186 309h2v1h-2zM1186 342h2v1h-2zM1186 375h2v1h-2zM1186 408h2v1h-2zM1186 467h2v1h-2zM1186 580h2v1h-2zM1186 627h2v1h-2zM1186 415h1v1h-1zM1186 540h1v1h-1zM1186 545h1v1h-1zM1186 662h1v1h-1zM3 664h1v3h-1zM67 664h1v3h-1zM131 664h1v3h-1zM195 664h1v3h-1zM259 664h1v3h-1zM323 664h1v3h-1zM387 664h1v3h-1zM451 664h1v3h-1zM515 664h1v3h-1zM579 664h1v3h-1zM643 664h1v3h-1zM707 664h1v3h-1zM771 664h1v3h-1zM835 664h1v3h-1zM899 664h1v3h-1zM963 664h1v3h-1zM1027 664h1v3h-1zM1091 664h1v3h-1zM1155 664h1v3h-1zM6 9h7v1h-7zM7 10h5v1h-5zM8 11h3v1h-3zM9 12h1v1h-1z"/>
<rect x="3" y="72" width="1183" height="2" fill="#ff0000"/>
<rect x="3" y="150" width="1183" height="2" fill="#ff0000"/>
<rect x="3" y="268" width="1183" height="2" fill="#ff0000"/>
<rect x="3" y="346" width="1183" height="2" fill="#00cc00"/>
<rect x="3" y="386" width="1183" height="2" fill="#4060e0"/>
<rect x="1185" y="361" width="1" height="1" fill="#c0c0c0"/>
</svg>
<div id="labels">
<div class="t d" style="left:18px;top:6px;">SP500-,H4&nbsp; 4149.000 4155.500 4148.750 4152.000</div>
<div class="t d" style="left:6.5px;top:418px;">MACD(12,26,9) -41.1648 -34.1283</div>
<div class="t d" style="left:6.5px;top:548px;">RSI(14) 36.1916</div>
<div class="t" style="left:1191px;top:8px;">4596.695</div>
<div class="t" style="left:1191px;top:41px;">4554.950</div>
<div class="t" style="left:1191px;top:74px;">4513.205</div>
<div class="t" style="left:1191px;top:107px;">4471.460</div>
<div class="t" style="left:1191px;top:140px;">4428.450</div>
<div class="t" style="left:1191px;top:173px;">4386.705</div>
<div class="t" style="left:1191px;top:206px;">4344.960</div>
<div class="t" style="left:1191px;top:239px;">4303.215</div>
<div class="t" style="left:1191px;top:272px;">4261.470</div>
<div class="t" style="left:1191px;top:305px;">4218.460</div>
<div class="t" style="left:1191px;top:338px;">4176.715</div>
<div class="t" style="left:1191px;top:371px;">4134.970</div>
<div class="t" style="left:1191px;top:404px;">4093.225</div>
<div class="t" style="left:1189px;top:416px;">44.18</div>
<div class="t" style="left:1189px;top:463px;">0.00</div>
<div class="t" style="left:1189px;top:530px;">-62.3141</div>
<div class="t" style="left:1189px;top:546px;">100</div>
<div class="t" style="left:1188px;top:576px;">70</div>
<div class="t" style="left:1188px;top:623px;">30</div>
<div class="t" style="left:1189px;top:652px;">0</div>
<div class="t d" style="left:2px;top:668px;">3 Feb 2022</div>
<div class="t d" style="left:66px;top:668px;">6 Feb 23:00</div>
<div class="t d" style="left:130px;top:668px;">8 Feb 04:00</div>
<div class="t d" style="left:194px;top:668px;">9 Feb 12:00</div>
<div class="t d" style="left:258px;top:668px;">10 Feb 20:00</div>
<div class="t d" style="left:322px;top:668px;">14 Feb 00:00</div>
<div class="t d" style="left:386px;top:668px;">15 Feb 08:00</div>
<div class="t d" style="left:450px;top:668px;">16 Feb 16:00</div>
<div class="t d" style="left:514px;top:668px;">18 Feb 00:00</div>
<div class="t d" style="left:578px;top:668px;">21 Feb 04:00</div>
<div class="t d" style="left:642px;top:668px;">22 Feb 12:00</div>
<div class="t d" style="left:706px;top:668px;">23 Feb 20:00</div>
<div class="t d" style="left:770px;top:668px;">25 Feb 04:00</div>
<div class="t d" style="left:834px;top:668px;">28 Feb 08:00</div>
<div class="t d" style="left:898px;top:668px;">1 Mar 16:00</div>
<div class="t d" style="left:962px;top:668px;">3 Mar 00:00</div>
<div class="t d" style="left:1026px;top:668px;">4 Mar 08:00</div>
<div class="t d" style="left:1090px;top:668px;">7 Mar 12:00</div>
<div class="t d" style="left:1154px;top:668px;">8 Mar 20:00</div>
<div class="box" style="top:67px;background:#ff0000;"><span>4520.000</span></div>
<div class="box" style="top:145px;background:#ff0000;"><span>4420.000</span></div>
<div class="box" style="top:263px;background:#ff0000;"><span>4270.000</span></div>
<div class="box" style="top:341px;background:#00cc00;"><span>4170.000</span></div>
<div class="box" style="top:356px;background:#000000;"><span>4152.000</span></div>
<div class="box" style="top:381px;background:#4060e0;"><span>4120.000</span></div>
</div></div></body></html>
